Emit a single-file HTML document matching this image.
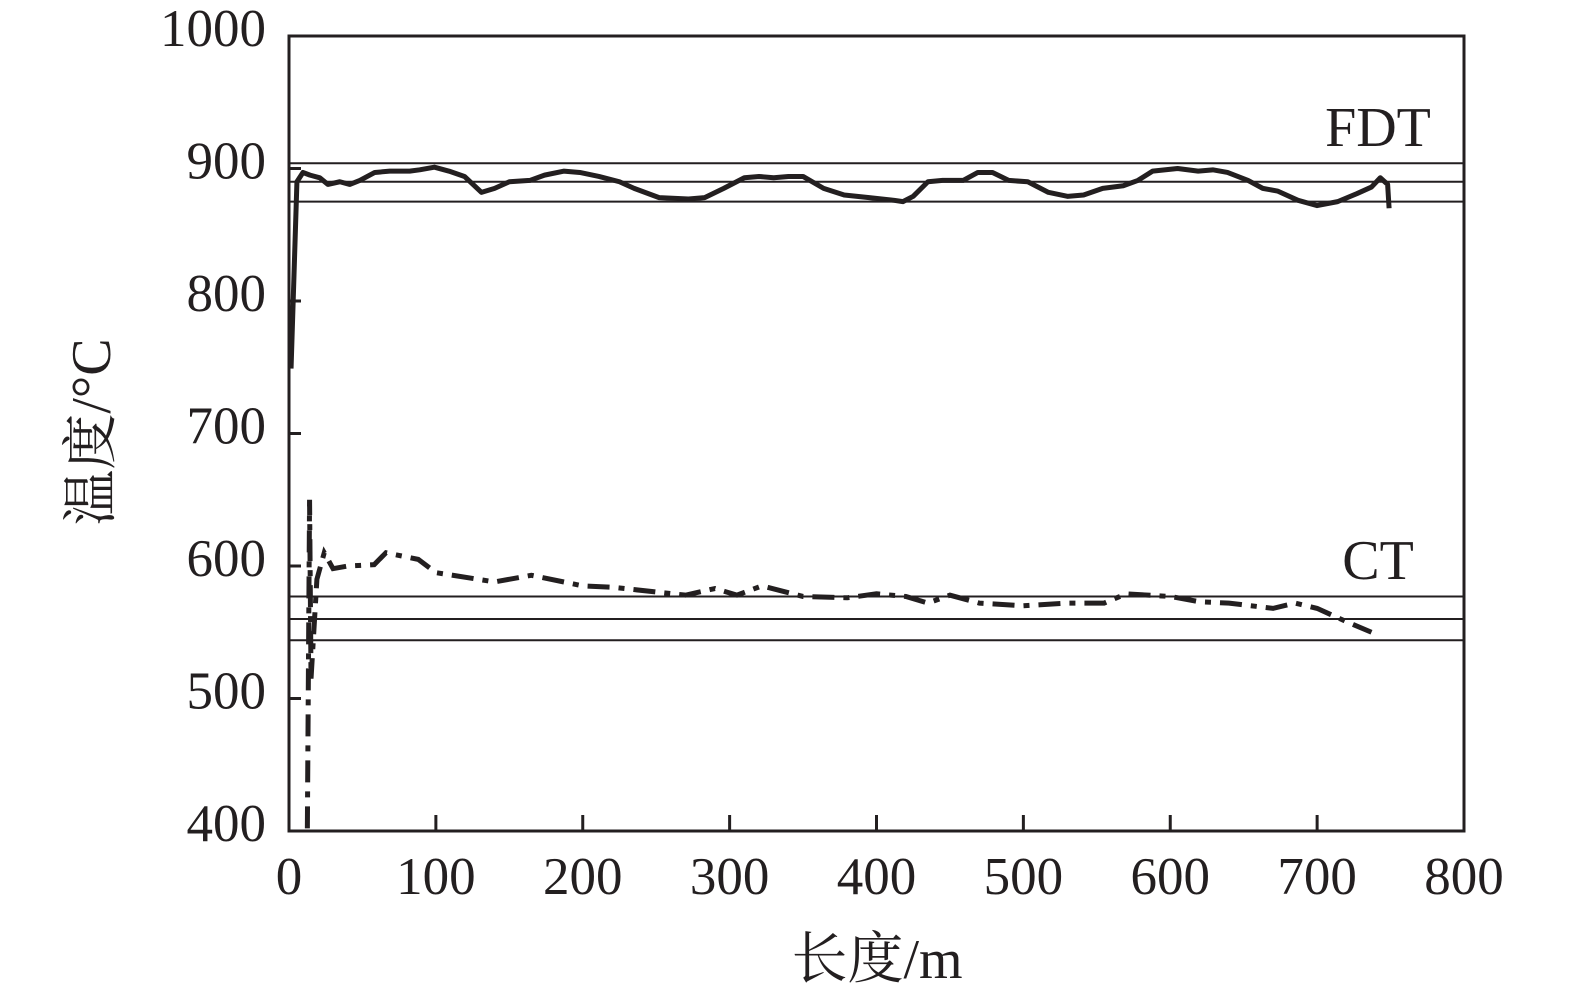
<!DOCTYPE html>
<html><head><meta charset="utf-8"><style>
html,body{margin:0;padding:0;background:#fff;}
svg text{font-family:"Liberation Serif","Noto Serif CJK SC",serif;fill:#231f20;}
</style></head><body>
<svg id="chart" width="1575" height="1000" viewBox="0 0 1575 1000" xmlns="http://www.w3.org/2000/svg">
<g id="plot"></g>
</svg>
<script>
const xTicks=[0,100,200,300,400,500,600,700,800];
const yTicks=[400,500,600,700,800,900,1000];
const fdtRefs=[904,890,875];
const ctRefs=[577,560,544];
const fdtX=[1.4,5.4,9.5,14.3,21,26.5,34.6,41.4,48.2,58.4,68.6,82.2,89,99,109,119.5,131,140,150,164,174,187,198,211,225,235,252,272,283,296,310,320,330,340,350,364,378,395,412,418,425,435,445,459,469,479,490,503,517,530,541,554,568,578,588,605,619,629,639,653,663,673,687,700,714,727,737,743,748,749];
const fdtY=[749,890,897,895,893,888,890,888,891,897,898,898,899,901,898,894,882,885,890,891,895,898,897,894,890,885,878,877,878,885,893,894,893,894,894,885,880,878,876,875,879,890,891,891,897,897,891,890,882,879,880,885,887,891,898,900,898,899,897,891,885,883,876,872,875,881,886,893,888,870];
const ctX=[12.5,14,15,19,24,30,40,58,66,88,100,140,165,200,220,270,290,305,322,350,380,400,420,435,450,470,500,530,555,570,600,620,640,670,685,700,720,737];
const ctY=[402,650,515,590,610,598,600,601,610,605,595,588,593,585,584,578,583,578,585,577,576,579,577,572,578,572,570,572,572,579,577,573,572,568,572,568,558,550];

const L=289,R=1464,T=36,B=831;
const sx=v=>L+(v-0)/(800-0)*(R-L);
const sy=v=>B-(v-400)/(1000-400)*(B-T);
const NS='http://www.w3.org/2000/svg';
const g=document.getElementById('plot');
function mk(tag,attrs){const e=document.createElementNS(NS,tag);for(const k in attrs)e.setAttribute(k,attrs[k]);g.appendChild(e);return e;}

fdtRefs.forEach(v=>{const e=mk('line',{x1:L,x2:R,y1:sy(v),y2:sy(v),stroke:'#231f20','stroke-width':2});

});
ctRefs.forEach(v=>{const e=mk('line',{x1:L,x2:R,y1:sy(v),y2:sy(v),stroke:'#231f20','stroke-width':2});

});

const fr=mk('rect',{x:L,y:T,width:R-L,height:B-T,fill:'none',stroke:'#231f20','stroke-width':3});



xTicks.forEach(v=>{
  if(v>0&&v<800){const t=mk('line',{x1:sx(v),x2:sx(v),y1:B,y2:B-16,stroke:'#231f20','stroke-width':3});
  
  }
  const tx=mk('text',{x:sx(v),y:894,'text-anchor':'middle','font-size':53});
  tx.textContent=v;
  
  
});
yTicks.forEach(v=>{
  if(v>400&&v<1000){const t=mk('line',{x1:L,x2:L+12,y1:sy(v),y2:sy(v),stroke:'#231f20','stroke-width':3});
  
  }
  const tx=mk('text',{x:266,y:sy(v)+10,'text-anchor':'end','font-size':53});
  tx.textContent=v;
  
  
});

const fdt=mk('polyline',{points:fdtX.map((x,i)=>sx(x)+','+sy(fdtY[i])).join(' '),fill:'none',stroke:'#231f20','stroke-width':5,'stroke-linejoin':'round'});


const ct=mk('polyline',{points:ctX.map((x,i)=>sx(x)+','+sy(ctY[i])).join(' '),fill:'none',stroke:'#231f20','stroke-width':5,'stroke-dasharray':'22 9 6 9'});



const l1=mk('text',{x:1378,y:146,'text-anchor':'middle','font-size':56});l1.textContent='FDT';


const l2=mk('text',{x:1378,y:579,'text-anchor':'middle','font-size':56});l2.textContent='CT';


const xt=mk('text',{x:877,y:978,'text-anchor':'middle','font-size':56});xt.textContent='长度/m';


const yt=mk('text',{x:0,y:0,'text-anchor':'middle','font-size':56,transform:'translate(110,432) rotate(-90)'});yt.textContent='温度/°C';


</script>
</body></html>
